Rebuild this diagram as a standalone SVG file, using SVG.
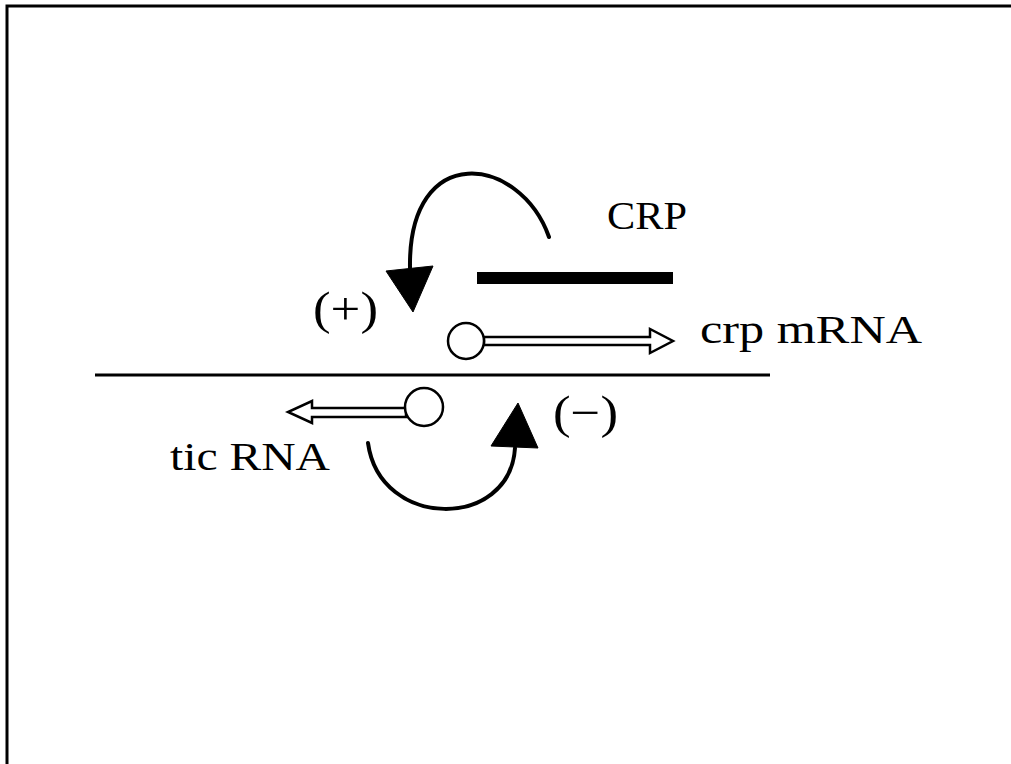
<svg xmlns="http://www.w3.org/2000/svg" width="1011" height="764" viewBox="0 0 1011 764">
<style>
.lbl{font-family:"Liberation Serif","DejaVu Serif",serif;font-size:40px;fill:#000}
.par{font-family:"Liberation Serif","DejaVu Serif",serif;font-size:46px;fill:#000}
.curve{fill:none;stroke:#000;stroke-width:4;stroke-linecap:round}
.hollow{fill:#fff;stroke:#000;stroke-width:2.5;stroke-linejoin:miter}
.head{fill:#000;stroke:#000;stroke-width:1}
</style>
<rect x="0" y="0" width="1011" height="764" fill="#fff"/>
<g id="frame">
<path d="M7,764 L7,6 L1011,6" fill="none" stroke="#000" stroke-width="3"/>
</g>
<g id="dna">
<line x1="95" y1="375" x2="770" y2="375" stroke="#000" stroke-width="3"/>
</g>
<g id="crp-protein">
<rect x="477" y="272" width="196" height="12" fill="#000"/>
<text class="lbl" x="607" y="229" textLength="80" lengthAdjust="spacingAndGlyphs">CRP</text>
</g>
<g id="crp-mrna">
<path class="hollow" d="M484,337 L650,337 L650,329 L673,341 L650,353 L650,345 L484,345 Z"/>
<circle cx="466" cy="341" r="18" fill="#fff" stroke="#000" stroke-width="2.5"/>
<text class="lbl" x="700" y="343" textLength="222" lengthAdjust="spacingAndGlyphs">crp mRNA</text>
</g>
<g id="tic-rna">
<path class="hollow" d="M406,408 L312,408 L312,401 L288,412 L312,423 L312,417 L406,417 Z"/>
<circle cx="424" cy="407" r="19" fill="#fff" stroke="#000" stroke-width="2.5"/>
<text class="lbl" x="170" y="470" textLength="160" lengthAdjust="spacingAndGlyphs">tic RNA</text>
</g>
<g id="plus-label">
<text class="par" x="313" y="324" textLength="65" lengthAdjust="spacingAndGlyphs">(+)</text>
</g>
<g id="minus-label">
<text class="par" x="553" y="428" textLength="65" lengthAdjust="spacingAndGlyphs">(−)</text>
</g>
<g id="connectors">
<path class="curve" d="M549,237 C520,155 408,140 410,268"/>
<polygon class="head" points="386,271 433,266 413,312"/>
<path class="curve" d="M368,443 C380,530 510,530 515,448"/>
<polygon class="head" points="491,446 538,448 518,403"/>
</g>
</svg>
